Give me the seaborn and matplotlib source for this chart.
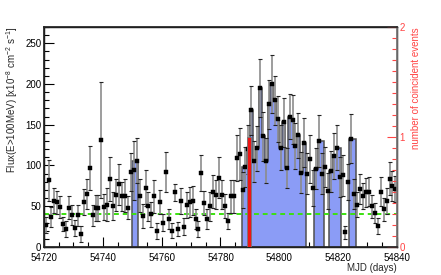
import numpy as np
import pandas as pd
import matplotlib
matplotlib.use("Agg")
import matplotlib.pyplot as plt
import seaborn as sns
from matplotlib.ticker import MultipleLocator

# ===============================
# DATA
# ===============================
# daily bins, one point per MJD day starting at 54720
mjd = np.arange(54720.5, 54840.0, 1.0)

flux = [27, 82, 37, 57, 55, 49, 28, 22, 48, 39,
        23, 39, 16, 55, 65, 97, 39, 48, 48, 131,
        49, 52, 84, 50, 64, 77, 62, 63, 48, 92,
        94, 106, 63, 38, 72, 50, 40, 62, 20, 55,
        30, 92, 34, 20, 67, 22, 56, 25, 52, 55,
        57, 34, 22, 91, 54, 34, 50, 68, 64, 85,
        64, 50, 32, 62, 62, 109, 114, 70, 98, 120,
        168, 105, 121, 195, 136, 106, 175, 200, 180, 157,
        122, 153, 97, 160, 156, 124, 137, 91, 128, 90,
        108, 72, 96, 130, 90, 98, 69, 93, 112, 122,
        86, 88, 18, 80, 133, 65, 52, 71, 62, 67,
        68, 50, 42, 26, 68, 46, 56, 84, 75, 71]

flux_err = [10, 25, 12, 15, 14, 14, 9, 10, 14, 12,
            10, 13, 10, 16, 18, 27, 13, 16, 16, 71,
            16, 20, 27, 17, 20, 25, 18, 20, 14, 23,
            36, 28, 20, 15, 22, 18, 15, 20, 10, 15,
            10, 25, 12, 9, 10, 9, 16, 10, 16, 18,
            18, 12, 10, 22, 15, 12, 18, 20, 18, 25,
            18, 15, 10, 20, 20, 28, 32, 22, 25, 30,
            30, 25, 28, 36, 30, 28, 30, 35, 30, 28,
            28, 30, 25, 28, 30, 28, 28, 25, 30, 25,
            30, 22, 25, 32, 25, 25, 22, 25, 28, 28,
            25, 25, 8, 22, 30, 18, 15, 18, 16, 18,
            18, 14, 12, 10, 18, 14, 16, 20, 18, 16]

# flaring-state histogram (blue)
flare_left = [54749.8, 54787.4, 54789, 54790, 54791, 54792, 54793, 54794,
              54795, 54796, 54797, 54798, 54799, 54800, 54801, 54802, 54803,
              54804, 54805, 54806, 54807, 54808,
              54811.8, 54813.3, 54816.8, 54818.2, 54819.6, 54823.8]
flare_right = [54752.1, 54789, 54790, 54791, 54792, 54793, 54794, 54795,
               54796, 54797, 54798, 54799, 54800, 54801, 54802, 54803, 54804,
               54805, 54806, 54807, 54808, 54809,
               54813.3, 54815.2, 54818.2, 54819.6, 54821.1, 54826.2]
flare_height = [106, 98, 120, 168, 105, 121, 195, 136, 106, 175, 200, 180,
                157, 122, 153, 97, 160, 156, 124, 137, 91, 128,
                96, 130, 93, 112, 121, 133]

# coincident events (red, right axis)
event_left = [54789.1]
event_right = [54790.3]
event_count = [1]

baseline = 40  # average flux level

df = pd.DataFrame({"mjd": mjd, "flux": flux, "err": flux_err})

# ===============================
# PLOT
# ===============================
sns.set_theme(style="ticks")
plt.rcParams["font.family"] = ["Liberation Sans", "DejaVu Sans"]
plt.rcParams["mathtext.fontset"] = "custom"
plt.rcParams["mathtext.rm"] = "Liberation Sans"

fig, ax = plt.subplots(figsize=(4.41, 2.75), dpi=100)
fig.subplots_adjust(left=0.1, right=0.9, bottom=0.102, top=0.902)

# blue histogram: fill, then outline each contiguous block as a step
fl = np.array(flare_left)
fr = np.array(flare_right)
fh = np.array(flare_height)
ax.bar(fl, fh, width=fr - fl, align="edge", color="#8b9cf6",
       linewidth=0, zorder=1)
start = 0
for i in range(1, len(fl) + 1):
    if i == len(fl) or abs(fl[i] - fr[i - 1]) > 1e-6:
        edges = np.append(fl[start:i], fr[i - 1])
        ax.stairs(fh[start:i], edges, baseline=0, color="#505050",
                  linewidth=1.1, zorder=1.5)
        start = i

ax.axhline(baseline, color="#3be010", linestyle=(0, (2.5, 2)), linewidth=1.4, zorder=2)

ax.errorbar(df["mjd"], df["flux"], yerr=df["err"], fmt="none",
            ecolor="#8c8c8c", elinewidth=1.2, capsize=0, zorder=3)
ax.errorbar(df["mjd"], df["flux"], yerr=df["err"], fmt="none",
            ecolor="#222222", elinewidth=0, capsize=1.4, capthick=0.8, zorder=3)
sns.scatterplot(data=df, x="mjd", y="flux", marker="s", s=6, color="black",
                edgecolor="black", linewidth=0.3, ax=ax, zorder=4)

ax.set_xlim(54720, 54840)
ax.set_ylim(0, 270)
ax.xaxis.set_major_locator(MultipleLocator(20))
ax.xaxis.set_minor_locator(MultipleLocator(5))
ax.yaxis.set_major_locator(MultipleLocator(50))
ax.yaxis.set_minor_locator(MultipleLocator(10))
ax.tick_params(which="both", direction="in", top=False, right=False,
               labelsize=7, colors="black")
ax.tick_params(axis="y", pad=2)
ax.tick_params(axis="x", pad=4)
ax.tick_params(which="major", length=7, width=0.8)
ax.tick_params(which="minor", length=3.5, width=0.8)
ax.ticklabel_format(useOffset=False, style="plain", axis="x")
for s in ax.spines.values():
    s.set_linewidth(1.0)
    s.set_color("black")

ax.set_xlabel("MJD (days)", fontsize=7, loc="right", labelpad=0)
ax.set_ylabel(r"Flux(E>100MeV) [x10$^{-8}$ cm$^{-2}$ s$^{-1}$]", fontsize=7,
              loc="top", labelpad=4)

# right axis: number of coincident events
ax2 = ax.twinx()
el = np.array(event_left)
er = np.array(event_right)
ax2.bar(el, event_count, width=er - el, align="edge", color="#ee1515",
        edgecolor="#777777", linewidth=0.6, zorder=5)
ax2.set_ylim(0, 2)
ax2.yaxis.set_major_locator(MultipleLocator(1))
ax2.yaxis.set_minor_locator(MultipleLocator(0.1))
ax2.tick_params(which="both", direction="in", colors="#ff4444", labelsize=7, pad=2)
ax2.tick_params(which="major", length=7, width=0.8)
ax2.tick_params(which="minor", length=3.5, width=0.8)
ax2.spines["right"].set_color("#777777")
ax2.set_ylabel("number of coincident events", color="#ff4444", fontsize=7,
               loc="top", labelpad=4)
ax2.set_xlim(54720, 54840)

plt.savefig("out.png", dpi=100)
plt.close()
